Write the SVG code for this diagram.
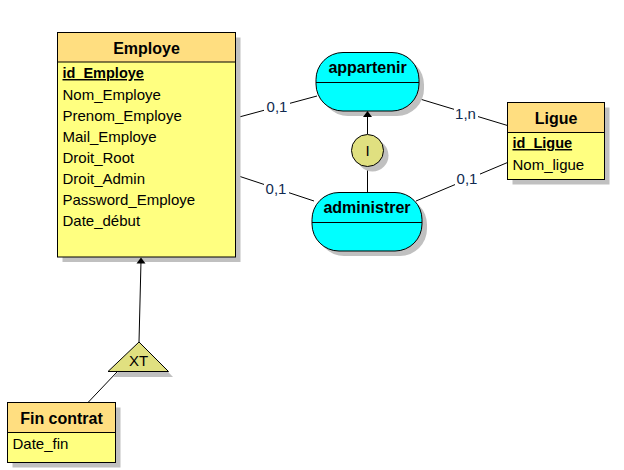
<svg xmlns="http://www.w3.org/2000/svg" width="624" height="470" viewBox="0 0 624 470">
<style>
.shadow{fill:#c0c0c0;stroke:none}
.head{fill:#ffde80;stroke:#000;stroke-width:1}
.body{fill:#ffff80;stroke:#000;stroke-width:1}
.assoc{fill:#00ffff;stroke:#000;stroke-width:1}
.khaki{fill:#e0e080;stroke:#000;stroke-width:1}
.ln{stroke:#000;stroke-width:1;fill:none}
.arrow{fill:#000;stroke:none}
.title{font-family:"Liberation Sans",Arial,sans-serif;font-weight:bold;font-size:16px;fill:#000;text-anchor:middle}
.attr{font-family:"Liberation Sans",Arial,sans-serif;font-size:15px;fill:#000}
.key{font-family:"Liberation Sans",Arial,sans-serif;font-size:14.5px;font-weight:bold;fill:#000;text-decoration:underline}
.lbl{font-family:"Liberation Sans",Arial,sans-serif;font-size:15px;fill:#102a50;text-anchor:middle}
.bg{fill:#fff;stroke:none}
</style>
<rect width="624" height="470" fill="#fff"/>

<g id="connectors">
<line class="ln" x1="235.5" y1="118" x2="317" y2="96"/>
<rect class="bg" x="264" y="99" width="26" height="16"/>
<text class="lbl" x="277" y="112">0,1</text>
<line class="ln" x1="235.5" y1="175" x2="314" y2="201"/>
<rect class="bg" x="264" y="181" width="25" height="16"/>
<text class="lbl" x="276" y="194">0,1</text>
<line class="ln" x1="415" y1="97.5" x2="507.5" y2="125.5"/>
<rect class="bg" x="454" y="106" width="24" height="16"/>
<text class="lbl" x="465.5" y="119">1,n</text>
<line class="ln" x1="416" y1="201" x2="507.5" y2="162.5"/>
<rect class="bg" x="455" y="171" width="25" height="16"/>
<text class="lbl" x="467" y="184">0,1</text>
<line class="ln" x1="367.5" y1="134" x2="367.5" y2="115"/>
<line class="ln" x1="367.5" y1="167" x2="367.5" y2="192.5"/>
<line class="ln" x1="139" y1="342" x2="141" y2="261"/>
<line class="ln" x1="117" y1="372" x2="88" y2="402.5"/>
</g>

<g id="employe">
<rect class="shadow" x="62.5" y="37.5" width="178" height="224.5"/>
<rect class="body" x="57.5" y="32.5" width="178" height="224.5"/>
<rect class="head" x="57.5" y="32.5" width="178" height="29.5"/>
<text class="title" x="146.5" y="54">Employe</text>
<text class="key" x="62.5" y="78">id_Employe</text>
<text class="attr" x="62.5" y="100">Nom_Employe</text>
<text class="attr" x="62.5" y="121">Prenom_Employe</text>
<text class="attr" x="62.5" y="142">Mail_Employe</text>
<text class="attr" x="62.5" y="163">Droit_Root</text>
<text class="attr" x="62.5" y="184">Droit_Admin</text>
<text class="attr" x="62.5" y="205">Password_Employe</text>
<text class="attr" x="62.5" y="226">Date_début</text>
</g>

<g id="ligue">
<rect class="shadow" x="512.5" y="107.5" width="97" height="77"/>
<rect class="body" x="507.5" y="102.5" width="97" height="77"/>
<rect class="head" x="507.5" y="102.5" width="97" height="30"/>
<text class="title" x="556" y="124">Ligue</text>
<text class="key" x="512.5" y="148">id_Ligue</text>
<text class="attr" x="512.5" y="169.5">Nom_ligue</text>
</g>

<g id="fin_contrat">
<rect class="shadow" x="12.5" y="407.5" width="108" height="60"/>
<rect class="body" x="7.5" y="402.5" width="108" height="60"/>
<rect class="head" x="7.5" y="402.5" width="108" height="30"/>
<text class="title" x="61.5" y="424">Fin contrat</text>
<text class="attr" x="12.5" y="449">Date_fin</text>
</g>

<g id="appartenir">
<rect class="shadow" x="321" y="57.5" width="103" height="58.5" rx="27" ry="27"/>
<rect class="assoc" x="316" y="52.5" width="103" height="58.5" rx="27" ry="27"/>
<line class="ln" x1="316" y1="82.5" x2="419" y2="82.5"/>
<text class="title" x="367.5" y="72.5">appartenir</text>
</g>

<g id="administrer">
<rect class="shadow" x="317" y="197.5" width="110" height="58.5" rx="27" ry="27"/>
<rect class="assoc" x="312" y="192.5" width="110" height="58.5" rx="27" ry="27"/>
<line class="ln" x1="312" y1="222.5" x2="422" y2="222.5"/>
<text class="title" x="367" y="213">administrer</text>
</g>

<g id="arrowheads">
<polygon class="arrow" points="367.5,111 372,117 363,117"/>
<polygon class="arrow" points="141,257.5 145.5,263.5 136.5,263.5"/>
</g>

<g id="inclusion">
<circle class="shadow" cx="372.5" cy="155.5" r="16"/>
<circle class="khaki" cx="367.5" cy="150.5" r="16"/>
<text class="attr" x="367.5" y="156" text-anchor="middle">I</text>
</g>

<g id="xt">
<polygon class="shadow" points="144,347 173,377 113,377"/>
<polygon class="khaki" points="139,342 168.5,371.5 108,371.5"/>
<text class="attr" x="138.5" y="366" text-anchor="middle">XT</text>
</g>
</svg>
